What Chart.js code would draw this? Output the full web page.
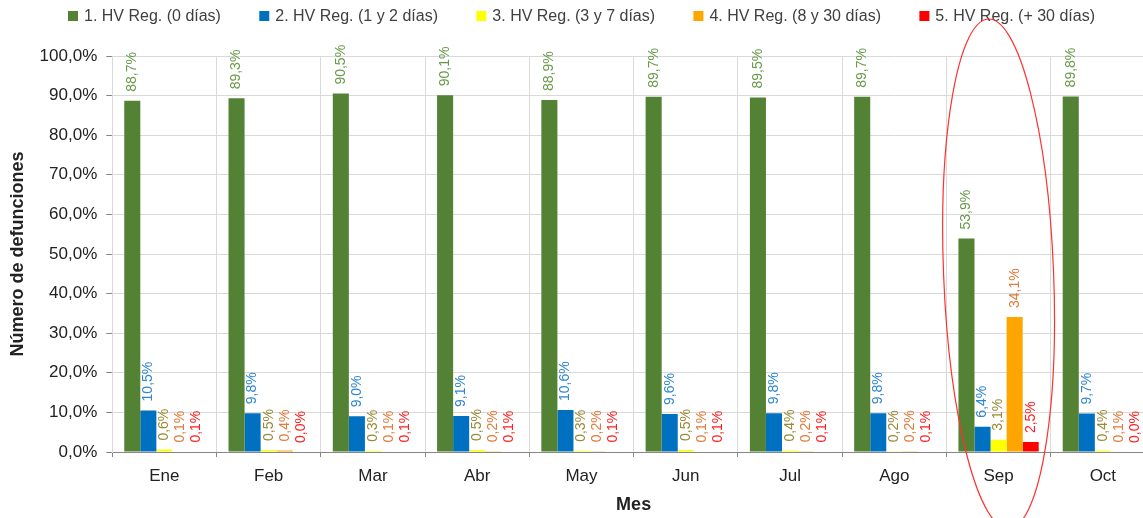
<!DOCTYPE html>
<html><head><meta charset="utf-8">
<script src="https://cdn.jsdelivr.net/npm/chart.js@4.4.1/dist/chart.umd.min.js"></script>
<style>html,body{margin:0;padding:0;background:#fff;overflow:hidden;}#wrap{width:1143px;height:518px;position:relative;overflow:hidden;}</style>
</head><body><div id="wrap"><canvas id="c" width="1155" height="518"></canvas></div>
<script>
const categories = ['Ene','Feb','Mar','Abr','May','Jun','Jul','Ago','Sep','Oct'];
const seriesNames = ['1. HV Reg. (0 días)','2. HV Reg. (1 y 2 días)','3. HV Reg. (3 y 7 días)','4. HV Reg. (8 y 30 días)','5. HV Reg. (+ 30 días)'];
const reg0 = [88.7, 89.3, 90.5, 90.1, 88.9, 89.7, 89.5, 89.7, 53.9, 89.8];
const reg1a2 = [10.5, 9.8, 9.0, 9.1, 10.6, 9.6, 9.8, 9.8, 6.4, 9.7];
const reg3a7 = [0.6, 0.5, 0.3, 0.5, 0.3, 0.5, 0.4, 0.2, 3.1, 0.4];
const reg8a30 = [0.1, 0.4, 0.1, 0.2, 0.2, 0.1, 0.2, 0.2, 34.1, 0.1];
const reg30plus = [0.1, 0.0, 0.1, 0.1, 0.1, 0.1, 0.1, 0.1, 2.5, 0.0];
const yTicks = [0,10,20,30,40,50,60,70,80,90,100];

const barColors = ['#548235','#0070C0','#FFFF00','#FFA500','#FF0000'];
const labelColors = ['#6A9A4A','#2F86D0','#9A8A34','#E07B39','#FF2020'];
const FONT = "'Liberation Sans', Arial, sans-serif";
const fmt = v => v.toFixed(1).replace('.', ',') + '%';

const barLabels = {
  id: 'barLabels',
  afterDatasetsDraw(chart) {
    const ctx = chart.ctx;
    chart.data.datasets.forEach((ds, i) => {
      const meta = chart.getDatasetMeta(i);
      meta.data.forEach((el, j) => {
        ctx.save();
        ctx.translate(el.x, el.y - 9);
        ctx.rotate(-Math.PI / 2);
        ctx.font = '14px ' + FONT;
        ctx.fillStyle = labelColors[i];
        ctx.textAlign = 'left';
        ctx.textBaseline = 'middle';
        ctx.fillText(fmt(ds.data[j]), 0, 0);
        ctx.restore();
      });
    });
  }
};

const customLegend = {
  id: 'customLegend',
  afterDraw(chart) {
    const ctx = chart.ctx;
    ctx.save();
    ctx.font = '16px ' + FONT;
    const box = 10, gapBox = 6;
    const widths = chart.data.datasets.map(ds => box + gapBox + ctx.measureText(ds.label).width);
    const content = widths.reduce((a, b) => a + b, 0);
    const left = 68, right = 1095;
    const gap = (right - left - content) / (widths.length - 1);
    let x = left;
    const y = 16;
    chart.data.datasets.forEach((ds, i) => {
      ctx.fillStyle = ds.backgroundColor;
      ctx.fillRect(x, y - box / 2, box, box);
      ctx.fillStyle = '#404040';
      ctx.textAlign = 'left';
      ctx.textBaseline = 'middle';
      ctx.fillText(ds.label, x + box + gapBox, y + 1);
      x += widths[i] + gap;
    });
    ctx.restore();
  }
};

const ellipse = {
  id: 'ellipse',
  afterDraw(chart) {
    const ctx = chart.ctx;
    const xs = chart.scales.x, ys = chart.scales.y;
    const cx = xs.getPixelForValue(8);
    const cy = ys.getPixelForValue(45);
    ctx.save();
    ctx.strokeStyle = '#FF3030';
    ctx.lineWidth = 1.2;
    ctx.beginPath();
    ctx.ellipse(cx, cy, 55, 255, -0.04, 0, Math.PI * 2);
    ctx.stroke();
    ctx.restore();
  }
};

const series = [reg0, reg1a2, reg3a7, reg8a30, reg30plus];
new Chart(document.getElementById('c'), {
  type: 'bar',
  data: {
    labels: categories,
    datasets: series.map((d, i) => ({
      label: seriesNames[i],
      data: d,
      backgroundColor: barColors[i],
      borderWidth: 0,
      categoryPercentage: 0.77,
      barPercentage: 1.0
    }))
  },
  options: {
    responsive: false,
    animation: false,
    layout: { padding: { left: 7, right: 0, top: 56, bottom: 4 } },
    plugins: {
      legend: { display: false },
      tooltip: { enabled: false }
    },
    scales: {
      x: {
        grid: { color: '#D9D9D9', tickColor: '#868686', tickLength: 5, offset: true },
        border: { color: '#868686' },
        ticks: { font: { family: FONT, size: 17, lineHeight: 1 }, color: '#222', padding: 11 },
        title: { display: true, text: 'Mes', font: { family: FONT, size: 18, weight: 'bold', lineHeight: 1 }, color: '#222', padding: { top: 0, bottom: 0 } }
      },
      y: {
        min: 0, max: 100,
        afterBuildTicks(axis) { axis.ticks = yTicks.map(v => ({ value: v })); },
        grid: { color: '#D9D9D9', tickColor: '#868686', tickLength: 6 },
        border: { color: '#D9D9D9' },
        ticks: { font: { family: FONT, size: 17 }, color: '#222', padding: 9, callback: v => fmt(v) },
        title: { display: true, text: 'Número de defunciones', font: { family: FONT, size: 18, weight: 'bold' }, color: '#222', padding: { top: 0, bottom: 2 } }
      }
    }
  },
  plugins: [barLabels, customLegend, ellipse]
});
</script></body></html>
